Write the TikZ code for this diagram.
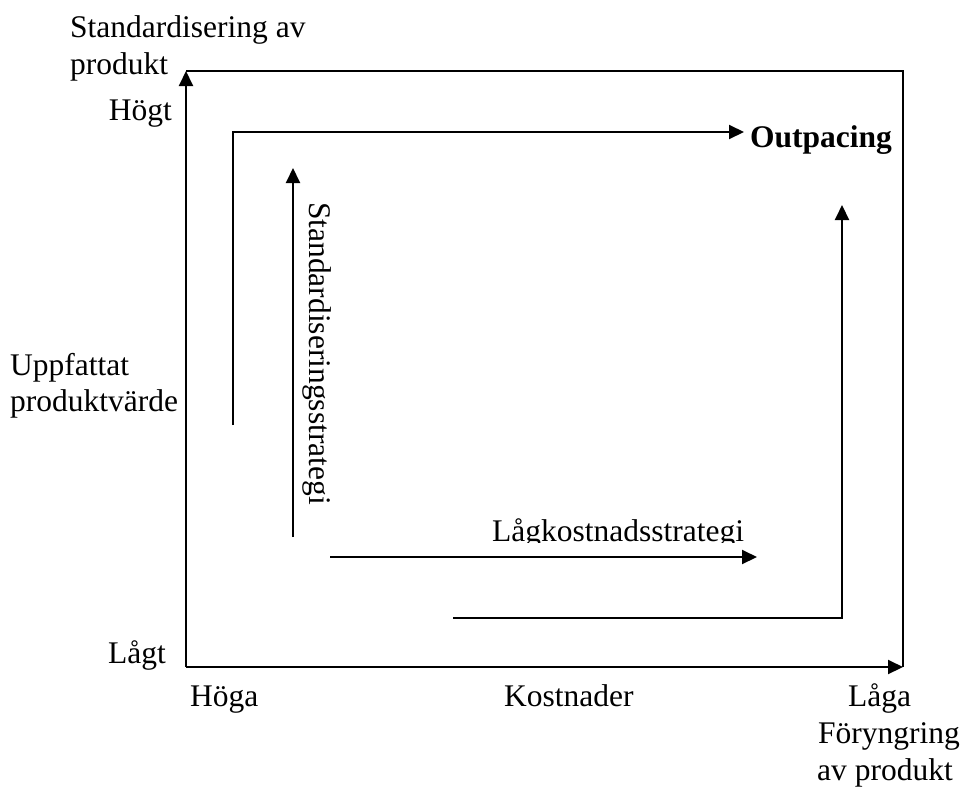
\documentclass[tikz,border=0pt]{standalone}
\usepackage{fontspec}
\setmainfont{Liberation Serif}
\usetikzlibrary{arrows.meta}
\begin{document}
\begin{tikzpicture}[x=1pt,y=-1pt,
  line/.style={line width=2pt},
  arr/.style={line width=2pt,-{Triangle[length=15pt,width=14pt]}},
  lbl/.style={inner sep=0pt,font=\fontsize{31.5}{37}\selectfont},
]
\useasboundingbox (0,0) rectangle (963,787);

% frame corners
\coordinate (o) at (186,667);
\coordinate (tl) at (186,71);
\coordinate (tr) at (903,71);
\coordinate (br) at (903,667);

% axes and frame
\draw[arr] (o) -- (tl);
\draw[arr] (o) -- (br);
\draw[line] (tl) -- (tr) -- (br);

% outpacing path
\coordinate (p1) at (233,425);
\coordinate (p2) at (233,132);
\node[lbl,anchor=base west,font=\fontsize{31.5}{37}\selectfont\bfseries] (out) at (750,147) {Outpacing};
\coordinate (p3) at (744,132);
\draw[arr] (p1) -- (p2) -- (p3);

% standardisation strategy
\coordinate (s1) at (293,537);
\coordinate (s2) at (293,168);
\draw[arr] (s1) -- (s2);
\node[lbl,anchor=base west,rotate=-90] (std) at (309,202) {Standardiseringsstrategi};

% low-cost strategy
\coordinate (l1) at (330,557);
\coordinate (l2) at (757,557);
\draw[arr] (l1) -- (l2);
\begin{scope}
  \clip (470,490) rectangle (770,542);
  \node[lbl,anchor=base west] (low) at (492,541) {Lågkostnadsstrategi};
\end{scope}

% rejuvenation path
\coordinate (r1) at (453,618);
\coordinate (r2) at (842,618);
\coordinate (r3) at (842,205);
\draw[arr] (r1) -- (r2) -- (r3);

% axis labels
\node[lbl,anchor=base west] (ya1) at (70,37) {Standardisering av};
\node[lbl,anchor=base west] (ya2) at (70,74) {produkt};
\node[lbl,anchor=base east] (hi) at (172,120) {Högt};
\node[lbl,anchor=base west] (pv1) at (10,375) {Uppfattat};
\node[lbl,anchor=base west] (pv2) at (10,411) {produktvärde};
\node[lbl,anchor=base east] (lo) at (166,663) {Lågt};
\node[lbl,anchor=base west] (xh) at (190,706) {Höga};
\node[lbl,anchor=base west] (xk) at (504,706) {Kostnader};
\node[lbl,anchor=base west] (xl) at (848,706) {Låga};
\node[lbl,anchor=base west] (f1) at (818,743) {Föryngring};
\node[lbl,anchor=base west] (f2) at (817,780) {av produkt};
\end{tikzpicture}
\end{document}
